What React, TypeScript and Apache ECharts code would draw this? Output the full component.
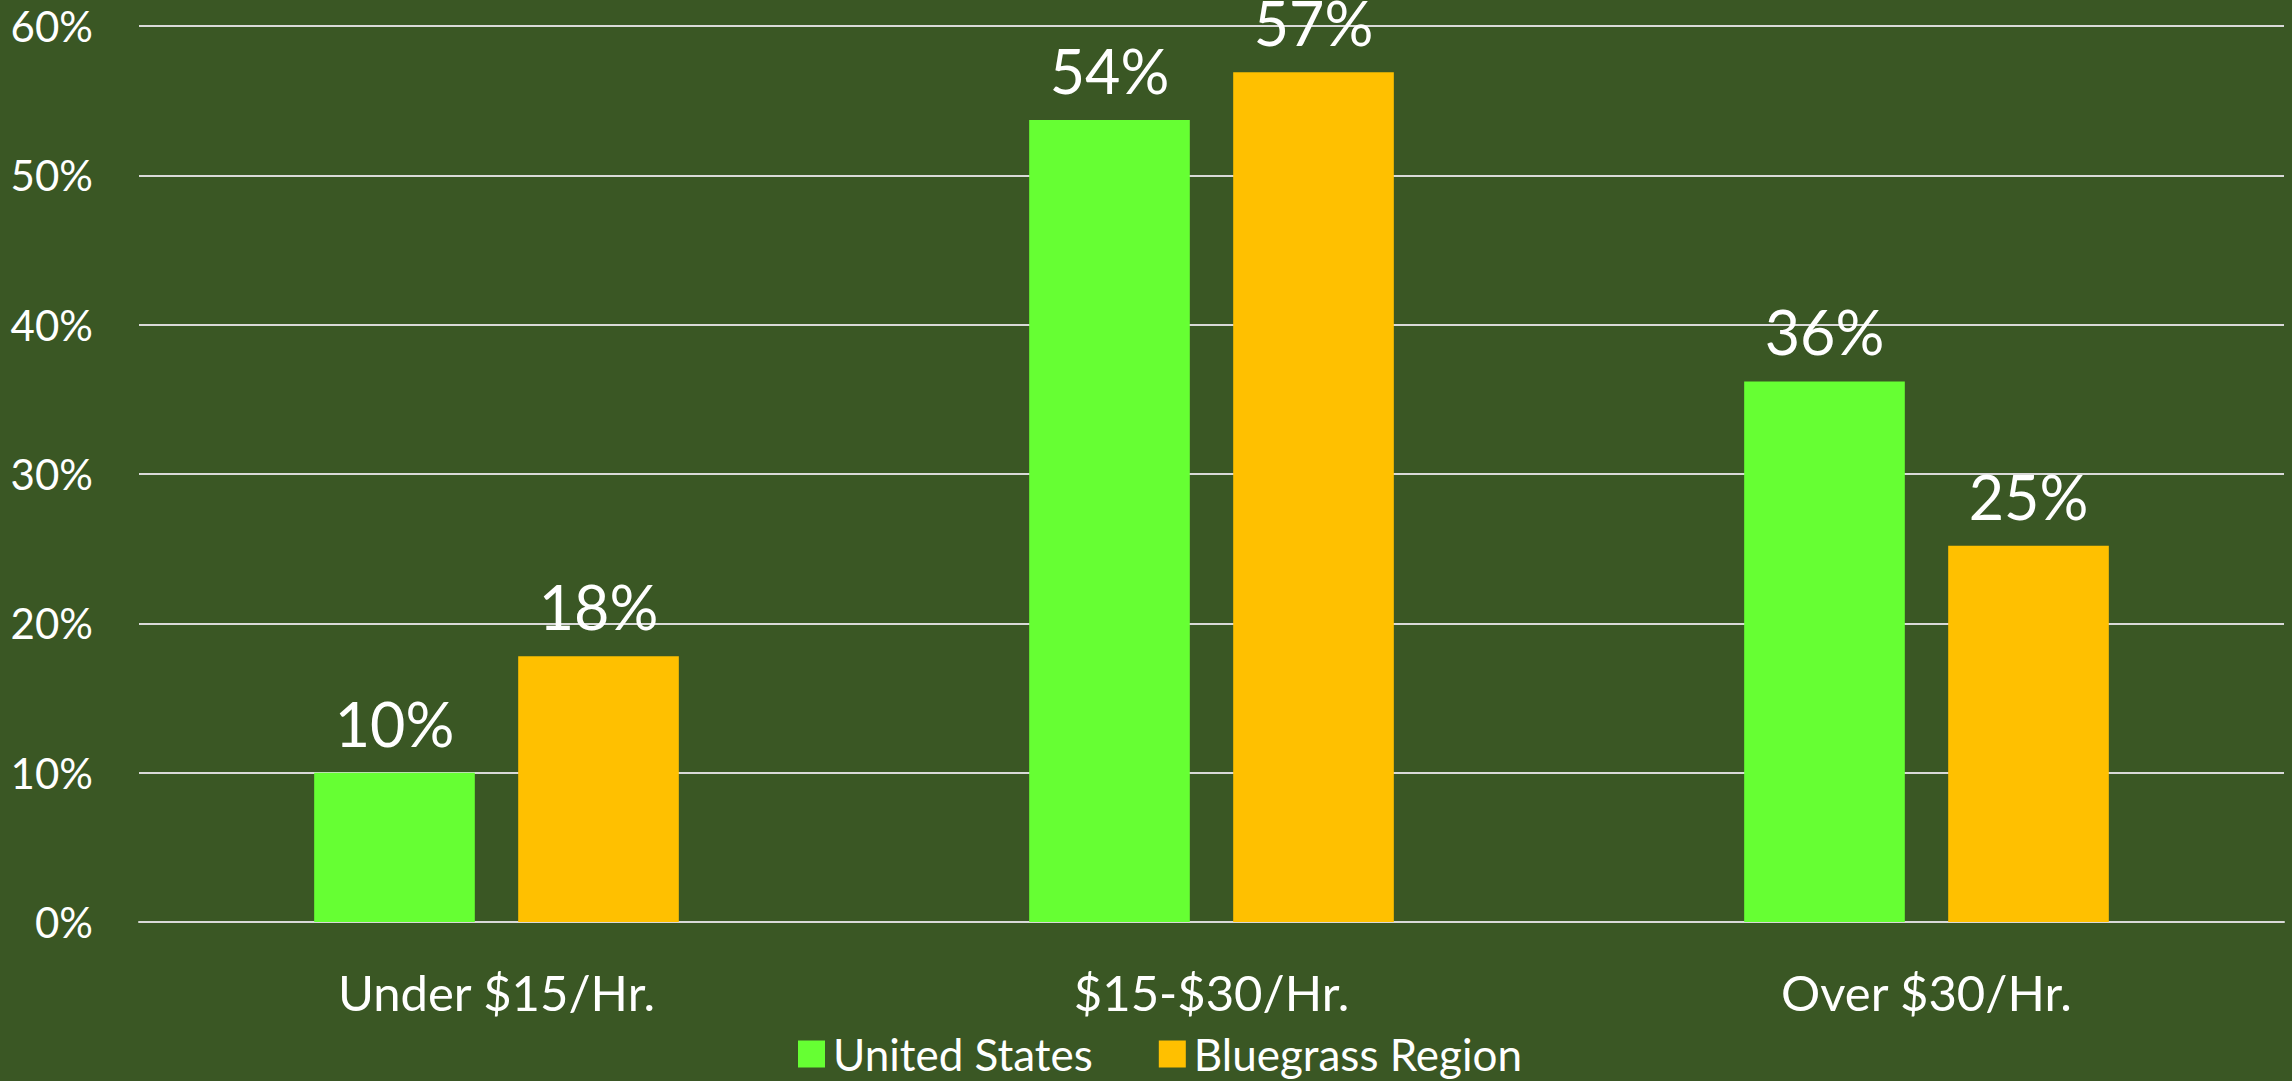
import React, { useEffect, useRef } from "react";
import * as echarts from "echarts";

const categories = ["Under $15/Hr.", "$15-$30/Hr.", "Over $30/Hr."];
const unitedStates = [10.0, 53.7, 36.2];
const bluegrass = [17.8, 56.9, 25.2];
const seriesNames = ["United States", "Bluegrass Region"];
const yTicks = { min: 0, max: 60, interval: 10 };

const FONT = "Lato, 'Open Sans', sans-serif";

export default function App() {
  const ref = useRef<HTMLDivElement>(null);
  useEffect(() => {
    document.body.style.margin = "0";
    if (!ref.current) return;
    const chart = echarts.init(ref.current, undefined, { renderer: "svg" });
    const labelCfg = {
      show: true,
      position: "top",
      distance: 19,
      color: "#ffffff",
      fontFamily: FONT,
      fontSize: 61,
      lineHeight: 61,
      formatter: (p: any) => Math.round(p.value) + "%",
    };
    chart.setOption({
      animation: false,
      backgroundColor: "#3A5724",
      grid: { left: 139, right: 8, top: 26, bottom: 159, containLabel: false },
      legend: {
        left: 793,
        top: 1027,
        icon: "rect",
        itemWidth: 27,
        itemHeight: 27,
        itemGap: 66,
        textStyle: { color: "#ffffff", fontFamily: FONT, fontSize: 44, padding: [0, 0, 0, 3] },
        data: seriesNames,
      },
      xAxis: {
        type: "category",
        data: categories,
        axisTick: { show: false },
        axisLine: { show: true, lineStyle: { color: "#d9d9d9", width: 2 } },
        axisLabel: { color: "#ffffff", fontFamily: FONT, fontSize: 49, lineHeight: 49, margin: 45 },
      },
      yAxis: {
        type: "value",
        min: yTicks.min,
        max: yTicks.max,
        interval: yTicks.interval,
        axisLine: { show: false },
        axisTick: { show: false },
        splitLine: { lineStyle: { color: "#d9d9d9", width: 2 } },
        axisLabel: {
          color: "#ffffff",
          fontFamily: FONT,
          fontSize: 42,
          margin: 46,
          formatter: "{value}%",
        },
      },
      series: [
        {
          name: seriesNames[0],
          type: "bar",
          data: unitedStates,
          itemStyle: { color: "#66FF33" },
          barGap: "27%",
          barCategoryGap: "49%",
          label: labelCfg,
        },
        {
          name: seriesNames[1],
          type: "bar",
          data: bluegrass,
          itemStyle: { color: "#FFC000" },
          barGap: "27%",
          barCategoryGap: "49%",
          label: labelCfg,
        },
      ],
    });
    return () => chart.dispose();
  }, []);
  return <div ref={ref} style={{ width: 2292, height: 1081 }} />;
}
